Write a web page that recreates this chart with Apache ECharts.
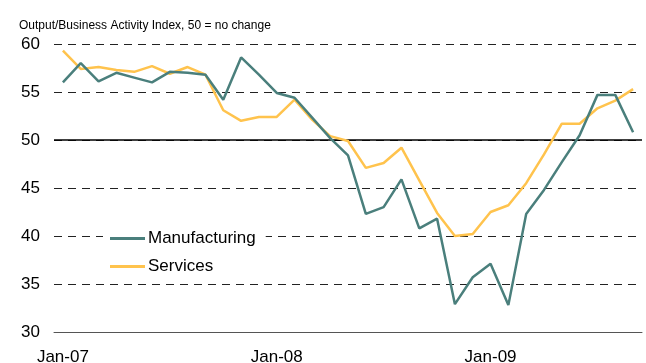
<!DOCTYPE html>
<html>
<head>
<meta charset="utf-8">
<script src="https://cdn.jsdelivr.net/npm/echarts@6/dist/echarts.min.js"></script>
<style>html,body{margin:0;padding:0;background:#fff}#c{width:646px;height:363px}</style>
</head>
<body>
<div id="c"></div>
<script>
var months = ['Jan','Feb','Mar','Apr','May','Jun','Jul','Aug','Sep','Oct','Nov','Dec'];
var categories = [];
['07','08','09'].forEach(function (y) { months.forEach(function (m) { categories.push(m + '-' + y); }); });
categories = categories.slice(0, 33);

var manufacturing = [56.0, 58.0, 56.1, 57.0, 56.5, 56.0, 57.1, 57.0, 56.8, 54.2,
  58.6, 56.8, 54.9, 54.4, 52.3, 50.2, 48.4, 42.3, 43.0, 45.9,
  40.8, 41.8, 32.9, 35.7, 37.1, 32.8, 42.3, 44.8, 47.7, 50.5,
  54.7, 54.7, 50.8];
var services = [59.3, 57.4, 57.6, 57.3, 57.1, 57.7, 56.9, 57.6, 56.8, 53.1,
  52.0, 52.4, 52.4, 54.2, 52.1, 50.4, 49.9, 47.1, 47.6, 49.2,
  45.8, 42.4, 40.0, 40.2, 42.5, 43.2, 45.5, 48.5, 51.7, 51.7,
  53.3, 54.1, 55.3];
var yTicks = [30, 35, 40, 45, 50, 55, 60];
var subtitle = 'Output/Business Activity Index, 50 = no change';

var chart = echarts.init(document.getElementById('c'), null, {renderer: 'canvas'});
var font = 'Arial, "Liberation Sans", Helvetica, sans-serif';
chart.setOption({
  animation: false,
  backgroundColor: '#fff',
  title: {
    text: subtitle,
    left: 14, top: 15,
    textStyle: {fontSize: 12, fontWeight: 'normal', color: '#000', fontFamily: font}
  },
  legend: {
    orient: 'vertical',
    left: 103, top: 222,
    backgroundColor: '#fff',
    padding: [8, 10, 8, 7],
    itemGap: 11,
    itemWidth: 35, itemHeight: 3,
    icon: 'rect',
    textStyle: {fontSize: 17, color: '#000', fontFamily: font, padding: [0, 0, 0, -2]},
    data: ['Manufacturing', 'Services']
  },
  grid: {left: 54, right: 4, top: 44, bottom: 31, containLabel: false, outerBoundsMode: 'none'},
  xAxis: {
    type: 'category',
    data: categories,
    boundaryGap: true,
    axisLine: {lineStyle: {color: '#555', width: 1}},
    axisTick: {length: 5, lineStyle: {color: '#555'}, interval: function (i) { return i % 12 === 0; }},
    axisLabel: {interval: function (i) { return i % 12 === 0; }, fontSize: 17, color: '#000', fontFamily: font, margin: 17},
    splitLine: {show: false}
  },
  yAxis: {
    type: 'value',
    min: yTicks[0], max: yTicks[yTicks.length - 1], interval: 5,
    axisLine: {show: false},
    axisTick: {show: false},
    axisLabel: {fontSize: 17, color: '#000', fontFamily: font, margin: 14},
    splitLine: {show: true, lineStyle: {color: '#222', type: [8, 6], width: 1}}
  },
  series: [
    {
      name: 'Manufacturing', type: 'line', data: manufacturing, symbol: 'none',
      lineStyle: {width: 2.5, color: '#4A7F7C'}, itemStyle: {color: '#4A7F7C'},
      z: 3,
      markLine: {
        silent: true, symbol: 'none', label: {show: false},
        lineStyle: {color: '#000', type: 'solid', width: 1.5},
        data: [{yAxis: 50}], z: 1
      }
    },
    {
      name: 'Services', type: 'line', data: services, symbol: 'none',
      lineStyle: {width: 2.5, color: '#FFC34D'}, itemStyle: {color: '#FFC34D'},
      z: 2
    }
  ]
});
</script>
</body>
</html>
